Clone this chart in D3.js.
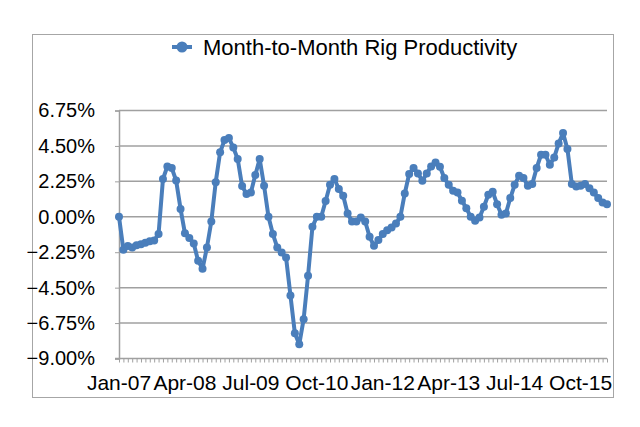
<!DOCTYPE html>
<html>
<head>
<meta charset="utf-8">
<script src="https://cdn.jsdelivr.net/npm/d3@7"></script>
<style>
  html, body { margin: 0; padding: 0; background: #fff; }
  svg { display: block; }
  text { font-family: "Liberation Sans", Arial, sans-serif; fill: #000; }
</style>
</head>
<body>
<svg id="chart" width="640" height="427"></svg>
<script>
// ---- Data ----
const seriesName = "Month-to-Month Rig Productivity";
const startMonth = new Date(2007, 0, 1);
const values = [
  0, -2.1, -1.85, -1.95, -1.8, -1.75, -1.65, -1.55, -1.5, -1.1,
  2.4, 3.2, 3.1, 2.3, 0.5, -1.05, -1.35, -1.7, -2.8, -3.3,
  -1.95, -0.3, 2.2, 4.1, 4.87, 5.0, 4.4, 3.67, 1.95, 1.45,
  1.55, 2.65, 3.67, 1.97, 0.0, -1.1, -1.95, -2.27, -2.59, -5.0,
  -7.4, -8.1, -6.5, -3.75, -0.64, 0.0, 0.0, 1.0, 2.03, 2.4,
  1.76, 1.33, 0.21, -0.3, -0.3, -0.04, -0.3, -1.27, -1.84, -1.48,
  -1.1, -0.85, -0.68, -0.43, 0.0, 1.48, 2.72, 3.1, 2.75, 2.29,
  2.75, 3.2, 3.45, 3.18, 2.46, 2.03, 1.65, 1.55, 1.02, 0.55,
  0.0, -0.25, -0.04, 0.64, 1.4, 1.59, 0.8, 0.13, 0.21, 1.19,
  2.03, 2.6, 2.46, 1.97, 2.08, 3.1, 3.94, 3.94, 3.3, 3.77,
  4.66, 5.32, 4.3, 2.08, 1.93, 1.97, 2.08, 1.82, 1.55, 1.19,
  0.91, 0.8
];
const fmtMonth = d3.timeFormat("%b-%y");
const categories = values.map((v, i) => fmtMonth(d3.timeMonth.offset(startMonth, i)));
const xTickLabels = ["Jan-07", "Apr-08", "Jul-09", "Oct-10", "Jan-12", "Apr-13", "Jul-14", "Oct-15"];
const yTicks = [-9, -6.75, -4.5, -2.25, 0, 2.25, 4.5, 6.75];

// ---- Layout ----
const svg = d3.select("#chart");
const plot = { left: 119, right: 607, top: 110.5, bottom: 358.5 };
const lineColor = "#4a7ebb";
const gridColor = "#a0a0a0";

// outer chart border
svg.append("rect")
  .attr("x", 32.5).attr("y", 34.5)
  .attr("width", 581).attr("height", 363)
  .attr("fill", "#fff").attr("stroke", "#a6a6a6").attr("stroke-width", 1);

const x = d3.scalePoint().domain(categories).range([plot.left, plot.right]);
const y = d3.scaleLinear().domain([-9, 6.75]).range([plot.bottom, plot.top]);

// gridlines
svg.append("g").selectAll("line")
  .data(yTicks.filter(t => t > -9))
  .join("line")
  .attr("x1", plot.left).attr("x2", plot.right)
  .attr("y1", d => y(d)).attr("y2", d => y(d))
  .attr("stroke", gridColor).attr("stroke-width", 1.5);

// y axis
const yAxis = d3.axisLeft(y).tickValues(yTicks).tickFormat(d => d3.format(".2f")(d) + "%").tickSize(4).tickPadding(20);
const gy = svg.append("g").attr("transform", `translate(${plot.left},0)`).call(yAxis);
gy.select(".domain").attr("stroke", gridColor).attr("stroke-width", 1.5);
gy.selectAll(".tick line").attr("stroke", gridColor);
gy.selectAll(".tick text").style("font-size", "20px").style("font-family", '"Liberation Sans", Arial, sans-serif').attr("fill", "#000");

// x axis: minor tick per month, labels every 15 months
const xAxis = d3.axisBottom(x).tickValues(categories).tickSize(4).tickFormat("");
const gx = svg.append("g").attr("transform", `translate(0,${plot.bottom})`).call(xAxis);
gx.select(".domain").attr("stroke", gridColor).attr("stroke-width", 1.5).attr("d", `M${plot.left - 4},0H${plot.right}`);
gx.selectAll(".tick line").attr("stroke", gridColor);

svg.append("g").selectAll("text")
  .data(xTickLabels)
  .join("text")
  .attr("x", d => x(d))
  .attr("y", 390)
  .attr("text-anchor", "middle")
  .style("font-size", "21px")
  .text(d => d);

// line
const line = d3.line().x((d, i) => x(categories[i])).y(d => y(d));
svg.append("path")
  .datum(values)
  .attr("d", line)
  .attr("fill", "none")
  .attr("stroke", lineColor)
  .attr("stroke-width", 4)
  .attr("stroke-linejoin", "round");

svg.append("g").selectAll("circle")
  .data(values)
  .join("circle")
  .attr("cx", (d, i) => x(categories[i]))
  .attr("cy", d => y(d))
  .attr("r", 4)
  .attr("fill", lineColor);

// legend
const lg = svg.append("g").attr("transform", "translate(182,47)");
lg.append("line").attr("x1", -10).attr("x2", 10).attr("y1", 0).attr("y2", 0)
  .attr("stroke", lineColor).attr("stroke-width", 4);
lg.append("circle").attr("r", 5.5).attr("fill", lineColor);
lg.append("text").attr("x", 21).attr("y", 0).attr("dy", "0.35em")
  .style("font-size", "22px").text(seriesName);
</script>
</body>
</html>
